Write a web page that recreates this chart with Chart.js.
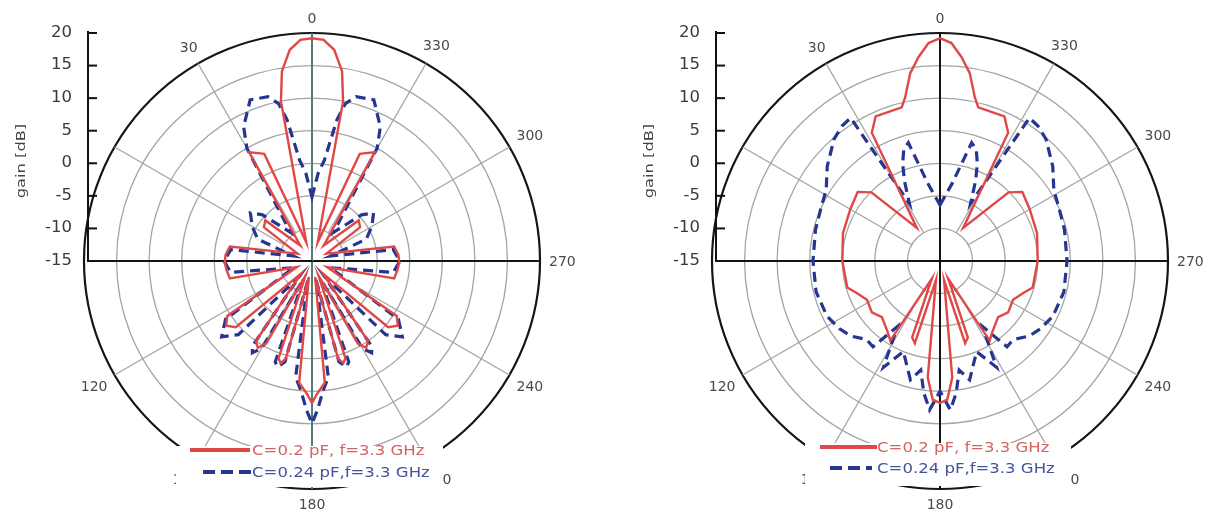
<!DOCTYPE html>
<html>
<head>
<meta charset="utf-8">
<script src="https://cdn.jsdelivr.net/npm/chart.js@4.4.1/dist/chart.umd.min.js"></script>
<style>
  html, body { margin: 0; padding: 0; background: #fff; }
  body { width: 1214px; height: 516px; position: relative; overflow: hidden;
         font-family: "DejaVu Sans", "Liberation Sans", sans-serif; }
  canvas { position: absolute; top: 0; }
  #polarLeft { left: 0; }
  #polarRight { left: 620px; }
  .legend { position: absolute; background: #fff; }
  .swatch { position: absolute; height: 4px; }
  .solid { background: #e04848; }
  .dashed { background: repeating-linear-gradient(to right, #26358f 0 12px, transparent 12px 18px); }
  .entry { position: absolute; font-size: 14px; line-height: 18px; white-space: nowrap;
           transform: scaleX(1.18); transform-origin: left center; }
  .entry.red { color: #d46464; }
  .entry.blue { color: #45539a; }
</style>
</head>
<body>
<canvas id="polarLeft" width="580" height="516"></canvas>
<canvas id="polarRight" width="588" height="516"></canvas>

<div class="legend" style="left:176px;top:446px;width:267px;height:41px;"></div>
<div class="swatch solid" style="left:190px;top:448px;width:60px;"></div>
<div class="entry red" style="left:252px;top:441px;">C=0.2 pF, f=3.3 GHz</div>
<div class="swatch dashed" style="left:203px;top:470px;width:48px;"></div>
<div class="entry blue" style="left:252px;top:463px;">C=0.24 pF,f=3.3 GHz</div>

<div class="legend" style="left:805px;top:443px;width:266px;height:43px;"></div>
<div class="swatch solid" style="left:820px;top:445px;width:57px;"></div>
<div class="entry red" style="left:877px;top:438px;">C=0.2 pF, f=3.3 GHz</div>
<div class="swatch dashed" style="left:830px;top:466px;width:42px;"></div>
<div class="entry blue" style="left:877px;top:459px;">C=0.24 pF,f=3.3 GHz</div>

<script>
// Angular positions, degrees counted anticlockwise from the top
const ANGLE_LABELS = Array.from({ length: 360 }, (_, i) => (360 - i) % 360);
const ANGLE_TICKS = [0, 30, 120, 150, 180, 210, 240, 270, 300, 330];
const SPOKE_ANGLES = [30, 60, 120, 150, 210, 240, 300, 330];
const GAIN_TICKS = [20, 15, 10, 5, 0, -5, -10, -15];
const SERIES_NAMES = ['C=0.2 pF, f=3.3 GHz', 'C=0.24 pF,f=3.3 GHz'];

// Left pattern, C = 0.2 pF
const leftRedDeg = [0, 3, 6, 9, 11, 17, 24, 30, 37, 49, 55, 63, 80, 86, 91, 96, 102, 112, 123, 127, 131, 139, 145, 148, 151, 156, 161, 163, 165, 169, 174, 178, 180,
  182, 186, 191, 195, 197, 199, 204, 209, 212, 215, 221, 229, 233, 237, 248, 258, 264, 269, 274, 280, 297, 305, 311, 323, 330, 336, 343, 349, 351, 354, 357];
const leftRedGain = [19.2, 19.0, 17.6, 14.5, 10.0, -12, 3.0, 4.3, -12, -5.5, -6.0, -12.5, -2.2, -1.7, -1.6, -1.8, -2.1, -12.5, 0.5, 1.5, 0.5, -12.5, 0.0, 0.7, -0.5, -12.5, 0.8, 1.4, 0.5, -12.5, 3.8, 5.5, 6.8,
  5.5, 3.8, -12.5, 0.5, 1.4, 0.8, -12.5, -0.5, 0.7, 0.0, -12.5, 0.5, 1.5, 0.5, -12.5, -2.1, -1.8, -1.6, -1.7, -2.2, -12.5, -6.0, -5.5, -12, 4.3, 3.0, -12, 10.0, 14.5, 17.6, 19.0];

// Left pattern, C = 0.24 pF
const leftBlueDeg = [0, 4, 7, 10, 12, 15, 21, 27, 30, 37, 47, 52, 60, 68, 75, 82, 90, 98, 110, 124, 130, 135, 141, 145, 147, 150, 155, 160, 162, 165, 168, 172, 175, 178, 180,
  182, 185, 188, 192, 195, 198, 200, 205, 210, 213, 215, 219, 225, 230, 236, 250, 262, 270, 278, 285, 292, 300, 308, 313, 323, 330, 333, 339, 345, 348, 350, 353, 356];
const leftBlueGain = [-5.2, -1.5, 0.6, 7.0, 9.7, 11.1, 11.5, 8.1, 5.0, -9.5, -4.6, -3.0, -4.4, -6.0, -12, -2.4, -1.5, -2.4, -12, 1.0, 3.1, 1.0, -12, 1.0, 1.8, 0.5, -12, 1.5, 2.1, 1.0, -12, 3.0, 4.9, 8.0, 9.9,
  8.0, 4.9, 3.0, -12, 1.0, 2.1, 1.5, -12, 0.5, 1.8, 1.0, -12, 1.0, 3.1, 1.0, -12, -2.4, -1.5, -2.4, -12, -6.0, -4.4, -3.0, -4.6, -9.5, 5.0, 8.1, 11.5, 11.1, 9.7, 7.0, 0.6, -1.5];

// Right pattern, C = 0.2 pF
const rightRedDeg = [0, 3, 6, 9, 12, 14, 24, 28, 35, 45, 50, 60, 74, 90, 106, 111, 118, 127, 134, 144, 148, 155, 160, 163, 168, 174, 177, 180,
  183, 186, 192, 197, 200, 205, 212, 216, 226, 233, 242, 249, 254, 270, 286, 300, 310, 315, 325, 332, 336, 346, 348, 351, 354, 357];
const rightRedGain = [19.2, 18.5, 16.5, 14.2, 10.7, 9.3, 9.3, 7.3, -8.8, -0.1, 1.5, 0.9, 0.5, 0.0, -0.2, -1.3, -2.3, -1.9, -2.6, -1.4, -0.6, -12, -2.5, -1.8, -12, 3.0, 6.3, 6.8,
  6.3, 3.0, -12, -1.8, -2.5, -12, -0.6, -1.4, -2.6, -1.9, -2.3, -1.3, -0.2, 0.0, 0.5, 0.9, 1.5, -0.1, -8.8, 7.3, 9.3, 9.3, 10.7, 14.2, 16.5, 18.5];

// Right pattern, C = 0.24 pF
const rightBlueDeg = [0, 9, 13, 15, 18, 21, 24, 28, 32, 36, 41, 50, 58, 66, 76, 90, 104, 116, 124, 130, 137, 142, 147, 152, 158, 166, 170, 173, 176, 180,
  184, 187, 190, 194, 202, 208, 213, 218, 223, 230, 236, 244, 256, 270, 284, 294, 302, 310, 319, 324, 328, 332, 336, 339, 342, 345, 347, 351];
const rightBlueGain = [-6.4, -2.9, 0.9, 3.8, 3.0, 1.0, -1.6, -5.0, 10.9, 10.6, 9.8, 7.6, 5.6, 5.0, 4.7, 4.5, 4.6, 4.3, 3.6, 2.9, 1.5, 1.7, -3.0, 3.5, 0.0, 3.8, 2.0, 5.4, 7.9, 5.0,
  7.9, 5.4, 2.0, 3.8, 0.0, 3.5, -3.0, 1.7, 1.5, 2.9, 3.6, 4.3, 4.6, 4.5, 4.7, 5.0, 5.6, 7.6, 9.8, 10.6, 10.9, -5.0, -1.6, 1.0, 3.0, 3.8, 0.9, -2.9];

// Spread the sampled angles onto the radar's one-degree label grid
function polarSeries(deg, gain) {
  const byDeg = new Map(deg.map((d, k) => [d, gain[k]]));
  return ANGLE_LABELS.map(d => (byDeg.has(d) ? byDeg.get(d) : null));
}

Chart.defaults.font.family = '"DejaVu Sans", "Liberation Sans", sans-serif';

// Gain axis on the left, spokes, horizontal reference line and angle labels
const polarFrame = {
  id: 'polarFrame',
  beforeDatasetsDraw(chart) {
    const r = chart.scales.r;
    const ctx = chart.ctx;
    const ax = r.xCenter - 224;
    ctx.save();
    // 30-degree spokes, starting at the -10 dB ring
    ctx.strokeStyle = '#a4a4a4';
    ctx.lineWidth = 1.3;
    const inner = r.getDistanceFromCenterForValue(-10);
    SPOKE_ANGLES.forEach(deg => {
      const idx = ANGLE_LABELS.indexOf(deg);
      const a = r.getPointPosition(idx, inner);
      const b = r.getPointPosition(idx, r.drawingArea);
      ctx.beginPath();
      ctx.moveTo(a.x, a.y);
      ctx.lineTo(b.x, b.y);
      ctx.stroke();
    });
    ctx.strokeStyle = '#111';
    ctx.lineWidth = 2;
    ctx.beginPath();
    ctx.moveTo(ax, r.yCenter);
    ctx.lineTo(r.xCenter, r.yCenter);
    ctx.stroke();
    ctx.restore();
  },
  afterDraw(chart) {
    const r = chart.scales.r;
    const ctx = chart.ctx;
    const cx = r.xCenter, cy = r.yCenter, R = r.drawingArea;
    const ax = cx - 224;
    ctx.save();
    ctx.strokeStyle = '#111';
    ctx.lineWidth = 2;
    ctx.beginPath();
    ctx.moveTo(ax, cy - r.getDistanceFromCenterForValue(r.max) - 2);
    ctx.lineTo(ax, cy + 1);
    ctx.stroke();
    ctx.fillStyle = '#3a3a3a';
    ctx.font = '15px "DejaVu Sans"';
    ctx.textAlign = 'right';
    ctx.textBaseline = 'middle';
    GAIN_TICKS.forEach(v => {
      const y = cy - r.getDistanceFromCenterForValue(v);
      ctx.beginPath();
      ctx.moveTo(ax, y);
      ctx.lineTo(ax + 9, y);
      ctx.stroke();
      ctx.save();
      ctx.translate(ax - 16, y);
      ctx.scale(1.1, 1);
      ctx.fillText(String(v), 0, 0);
      ctx.restore();
    });
    // axis title
    ctx.save();
    ctx.translate(ax - 66, cy - 100);
    ctx.rotate(-Math.PI / 2);
    ctx.scale(1.25, 1);
    ctx.textAlign = 'center';
    ctx.font = '13px "DejaVu Sans"';
    ctx.fillStyle = '#444';
    ctx.fillText('gain [dB]', 0, 0);
    ctx.restore();
    // angle labels
    ctx.font = '14px "DejaVu Sans"';
    ctx.fillStyle = '#4a4a4a';
    ctx.textAlign = 'center';
    ANGLE_TICKS.forEach(deg => {
      const idx = ANGLE_LABELS.indexOf(deg);
      const p = r.getPointPosition(idx, R);
      const w = ctx.measureText(String(deg)).width;
      const ux = Math.cos(p.angle), uy = Math.sin(p.angle);
      const d = 9 + Math.abs(ux) * w / 2 + Math.abs(uy) * 6 + (deg === 150 || deg === 210 ? 3 : 0);
      ctx.fillText(String(deg), p.x + ux * d, p.y + uy * d + 1);
    });
    ctx.restore();
  }
};

function makePolar(id, padLeft, vertColor, redDeg, redGain, blueDeg, blueGain) {
  return new Chart(document.getElementById(id), {
    type: 'radar',
    data: {
      labels: ANGLE_LABELS,
      datasets: [
        { label: SERIES_NAMES[0], data: polarSeries(redDeg, redGain), borderColor: '#e04848',
          borderWidth: 2.4, fill: false, spanGaps: true, pointRadius: 0 },
        { label: SERIES_NAMES[1], data: polarSeries(blueDeg, blueGain), borderColor: '#26358f',
          borderWidth: 3.2, borderDash: [10, 6], fill: false, spanGaps: true, pointRadius: 0 }
      ]
    },
    options: {
      responsive: false,
      animation: false,
      devicePixelRatio: 1,
      layout: { padding: { left: padLeft, right: 40, top: 33, bottom: 27 } },
      elements: { line: { tension: 0 }, point: { radius: 0 } },
      plugins: { legend: { display: false }, tooltip: { enabled: false } },
      scales: {
        r: {
          min: -15, max: 20,
          ticks: { stepSize: 5, display: false },
          pointLabels: { display: false },
          grid: {
            circular: true,
            color: c => (c.tick && c.tick.value === 20 ? '#151515' : '#a4a4a4'),
            lineWidth: c => (c.tick && c.tick.value === 20 ? 2.2 : 1.3)
          },
          angleLines: {
            color: c => {
              const d = ANGLE_LABELS[c.index];
              if (d === 0 || d === 180) return vertColor;
              return '#151515';
            },
            lineWidth: c => {
              const d = ANGLE_LABELS[c.index];
              return (d === 0 || d === 180 || d === 270) ? 2 : 0;
            }
          }
        }
      }
    },
    plugins: [polarFrame]
  });
}

makePolar('polarLeft', 84, '#4f7f78', leftRedDeg, leftRedGain, leftBlueDeg, leftBlueGain);
makePolar('polarRight', 92, '#151515', rightRedDeg, rightRedGain, rightBlueDeg, rightBlueGain);
</script>
</body>
</html>
